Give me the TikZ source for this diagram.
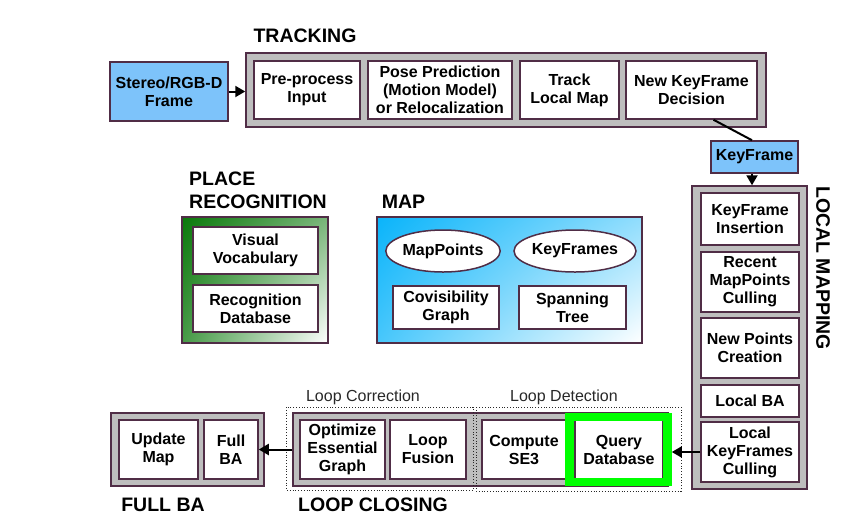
\documentclass[tikz,border=0pt]{standalone}
\usepackage{fontspec}
\setmainfont{Liberation Sans}
\usetikzlibrary{positioning,arrows.meta,shapes.geometric,shadings}

\definecolor{edgecol}{RGB}{80,45,70}
\definecolor{boxgray}{RGB}{190,190,190}
\definecolor{framebl}{RGB}{125,195,250}
\definecolor{placegr}{RGB}{10,120,10}
\definecolor{mapbl}{RGB}{10,180,250}
\definecolor{querygr}{RGB}{0,255,0}
\definecolor{notegray}{RGB}{40,40,40}

\tikzset{
  graybox/.style={draw=edgecol, fill=boxgray, line width=1.5, inner sep=0},
  procbox/.style={draw=edgecol, fill=white, line width=1.5, inner sep=0, align=center,
    font=\fontsize{16}{18}\selectfont\bfseries},
  ovalbox/.style={procbox, ellipse},
  title/.style={font=\fontsize{19.5}{23}\selectfont\bfseries, inner sep=0},
  note/.style={font=\fontsize{16}{18}\selectfont, text=notegray, inner sep=0},
  arr/.style={line width=2, -{Triangle[length=10,width=11]}},
  dotbox/.style={dotted, line width=0.8, draw=notegray},
}

\begin{document}
\begin{tikzpicture}[x=1pt,y=-1pt]

\useasboundingbox (0,0) rectangle (865,523);

%% Tracking
\node[title] (trtitle) at (305,36) {TRACKING};
\node[procbox, fill=framebl, minimum width=118, minimum height=59] (stereo) at (169,91.5) {Stereo/RGB-D\\Frame};
\node[graybox, minimum width=520, minimum height=74] (tracking) at (506,90) {};
\node[procbox, minimum width=106, minimum height=58] (pre) at (307,90) {Pre-process\\Input};
\node[procbox, minimum width=144, minimum height=58] (pose) at (440,90) {Pose Prediction\\(Motion Model)\\or Relocalization};
\node[procbox, minimum width=99, minimum height=58] (track) at (569.5,90) {Track\\Local Map};
\node[procbox, minimum width=131, minimum height=58] (newkf) at (691.5,90) {New KeyFrame\\Decision};

\node[procbox, fill=framebl, minimum width=87, minimum height=32] (kf) at (754.5,157) {KeyFrame};

%% Local mapping
\node[graybox, minimum width=115, minimum height=303] (lm) at (749.5,337.5) {};
\node[procbox, minimum width=98, minimum height=52] (kfi) at (750,219) {KeyFrame\\Insertion};
\node[procbox, minimum width=98, minimum height=60] (rmc) at (750,282) {Recent\\MapPoints\\Culling};
\node[procbox, minimum width=98, minimum height=60] (npc) at (750,348) {New Points\\Creation};
\node[procbox, minimum width=98, minimum height=32] (lba) at (750,401) {Local BA};
\node[procbox, minimum width=98, minimum height=60] (lkc) at (750,452) {Local\\KeyFrames\\Culling};
\node[title, rotate=-90] (lmtitle) at (823,268) {LOCAL MAPPING};

%% Place recognition
\node[title, align=left] (prtitle) at (258,190.5) {PLACE\\RECOGNITION};
\node[draw=edgecol, line width=1.5, minimum width=146, minimum height=126,
  upper left=placegr, lower left=placegr!75!white, upper right=placegr!55!white,
  lower right=white] (prbox) at (255,280) {};
\node[procbox, minimum width=125, minimum height=47] (vv) at (255.5,250.5) {Visual\\Vocabulary};
\node[procbox, minimum width=125, minimum height=47] (rd) at (255.5,308.5) {Recognition\\Database};

%% Map
\node[title] (maptitle) at (403.5,202) {MAP};
\node[draw=edgecol, line width=1.5, minimum width=265, minimum height=126,
  upper left=mapbl, lower left=mapbl!75!white, upper right=mapbl!45!white,
  lower right=white] (mapbox) at (509.5,280) {};
\node[ovalbox, minimum width=113, minimum height=42] (mp) at (443,251) {MapPoints};
\node[ovalbox, minimum width=113, minimum height=42] (kfs) at (575,251) {KeyFrames};
\node[procbox, minimum width=106, minimum height=43] (cov) at (446,307.5) {Covisibility\\Graph};
\node[procbox, minimum width=107, minimum height=43] (span) at (572.5,307.5) {Spanning\\Tree};

%% Loop closing
\node[graybox, minimum width=375, minimum height=73] (lc) at (480.5,449.5) {};
\node[procbox, minimum width=85, minimum height=59] (opt) at (342.5,449.5) {Optimize\\Essential\\Graph};
\node[procbox, minimum width=76, minimum height=59] (fus) at (428,449.5) {Loop\\Fusion};
\node[procbox, minimum width=84, minimum height=59] (se3) at (524,449.5) {Compute\\SE3};
\node[procbox, minimum width=88, minimum height=59] (qdb) at (619,449.5) {Query\\Database};
\node[draw=querygr, line width=8.5, minimum width=98, minimum height=65] (qgreen) at (618.5,449.5) {};
\draw[dotbox] (286,407) rectangle (473,490);
\draw[dotbox] (476,407) rectangle (681,491);
\node[note] (corrnote) at (363,397) {Loop Correction};
\node[note] (detnote) at (564,397) {Loop Detection};
\node[title] (lctitle) at (373,505) {LOOP CLOSING};

%% Full BA
\node[graybox, minimum width=153, minimum height=73] (fullba) at (187.5,449.5) {};
\node[procbox, minimum width=79, minimum height=59] (upd) at (158.5,449.5) {Update\\Map};
\node[procbox, minimum width=54, minimum height=59] (fba) at (231,449.5) {Full\\BA};
\node[title] (fbtitle) at (163,505) {FULL BA};

%% Connectors
\draw[arr] (stereo.east) -- (stereo.east -| tracking.west);
\draw[line width=2] ([xshift=22]newkf.south) -- (kf.north -| 752,0);
\draw[arr] (kf.south -| 752,0) -- (752,0 |- lm.north);
\draw[arr] (lkc.west) -- (lkc.west -| qgreen.east);
\draw[arr] (lc.west) -- (lc.west -| fba.east);

\end{tikzpicture}
\end{document}
